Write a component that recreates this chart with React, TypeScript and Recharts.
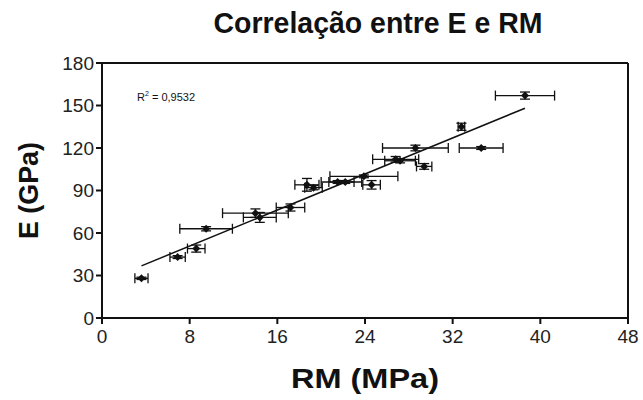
import React from "react";
import { ScatterChart, Scatter, XAxis, YAxis, ErrorBar, ReferenceLine, Label } from "recharts";

// RM (MPa) vs E (GPa), with error bars
const rmValues = [3.6, 6.9, 8.6, 9.5, 14.0, 14.4, 17.2, 18.7, 19.3, 21.5, 22.2, 23.9, 24.6, 26.8, 27.2, 28.6, 29.4, 32.8, 34.6, 38.6];
const eValues = [28, 43, 49, 63, 74, 71, 78, 94, 92, 96, 96, 100, 94, 112, 111, 120, 107, 135, 120, 157];
const rmErrors = [0.6, 0.7, 0.8, 2.4, 3.0, 1.5, 1.3, 1.1, 0.8, 1.5, 1.5, 3.1, 0.8, 2.1, 1.4, 3.0, 0.7, 0.3, 2.0, 2.7];
const eErrors = [0.8, 1, 2.5, 1.5, 3, 3.5, 2.5, 4.5, 1.5, 1, 1, 1, 3, 2, 1.5, 2, 2, 2.5, 1, 2.5];

// linear trend line ends
const trendRm = [3.6, 38.6];
const trendE = [36.8, 148.1];

const xTicks = [0, 8, 16, 24, 32, 40, 48];
const yTicks = [0, 30, 60, 90, 120, 150, 180];

const points = rmValues.map((x, i) => ({ x, y: eValues[i], xErr: rmErrors[i], yErr: eErrors[i] }));
const trend = trendRm.map((x, i) => ({ x, y: trendE[i] }));

const font = "'Liberation Sans', Arial, sans-serif";

const Diamond = (props: any) => {
    const { cx, cy } = props;
    return <path d={`M${cx},${cy - 4} L${cx + 4},${cy} L${cx},${cy + 4} L${cx - 4},${cy} Z`} fill="#111" />;
};

const XTitle = (props: any) => {
    const { viewBox } = props;
    const cx = viewBox.x + viewBox.width / 2;
    return (
        <text x={cx} y={viewBox.y + 70} textAnchor="middle" fontSize={28} fontWeight="bold" fill="#111"
            fontFamily={font} textLength={148} lengthAdjust="spacingAndGlyphs">RM (MPa)</text>
    );
};

const YTitle = (props: any) => {
    const { viewBox } = props;
    const cy = viewBox.y + viewBox.height / 2;
    return (
        <text x={38} y={cy} transform={`rotate(-90, 38, ${cy})`} textAnchor="middle" fontSize={27} fontWeight="bold"
            fill="#111" fontFamily={font} textLength={97} lengthAdjust="spacingAndGlyphs">E (GPa)</text>
    );
};

export default function App() {
    return (
        <div style={{ position: "absolute", left: 0, top: 0, width: 643, height: 400, background: "#fff" }}>
            <svg width={643} height={60} style={{ position: "absolute", left: 0, top: 0 }}>
                <text x={378} y={33} textAnchor="middle" fontSize={29} fontWeight="bold" fill="#111"
                    fontFamily={font} textLength={329} lengthAdjust="spacingAndGlyphs">Correlação entre E e RM</text>
            </svg>
            <ScatterChart width={643} height={400} margin={{ top: 63, right: 15, bottom: 0, left: 0 }}>
                <XAxis type="number" dataKey="x" domain={[0, 48]} ticks={xTicks} height={82}
                    axisLine={{ stroke: "#111", strokeWidth: 2 }} tickLine={{ stroke: "#111", strokeWidth: 2 }}
                    tick={{ fill: "#222", fontSize: 19, fontFamily: font }} tickSize={6} tickMargin={6}>
                    <Label content={<XTitle />} />
                </XAxis>
                <YAxis type="number" dataKey="y" domain={[0, 180]} ticks={yTicks} width={102}
                    axisLine={{ stroke: "#111", strokeWidth: 2 }} tickLine={{ stroke: "#111", strokeWidth: 2 }}
                    tick={{ fill: "#222", fontSize: 19, fontFamily: font }} tickSize={6} tickMargin={2}>
                    <Label content={<YTitle />} />
                </YAxis>
                <ReferenceLine y={180} stroke="#111" strokeWidth={2} />
                <ReferenceLine x={48} stroke="#111" strokeWidth={2} />
                <Scatter data={trend} line={{ stroke: "#111", strokeWidth: 1.5 }} shape={() => <g />} isAnimationActive={false} />
                <Scatter data={points} shape={<Diamond />} isAnimationActive={false}>
                    <ErrorBar dataKey="xErr" direction="x" width={5} stroke="#111" strokeWidth={1.3} />
                    <ErrorBar dataKey="yErr" direction="y" width={5} stroke="#111" strokeWidth={1.3} />
                </Scatter>
            </ScatterChart>
            <svg width={643} height={400} style={{ position: "absolute", left: 0, top: 0, pointerEvents: "none" }}>
                <text x={137} y={101} fontSize={11} fill="#111" fontFamily={font}>
                    R<tspan fontSize={7} dy={-5}>2</tspan><tspan dy={5}> = 0,9532</tspan>
                </text>
            </svg>
        </div>
    );
}
